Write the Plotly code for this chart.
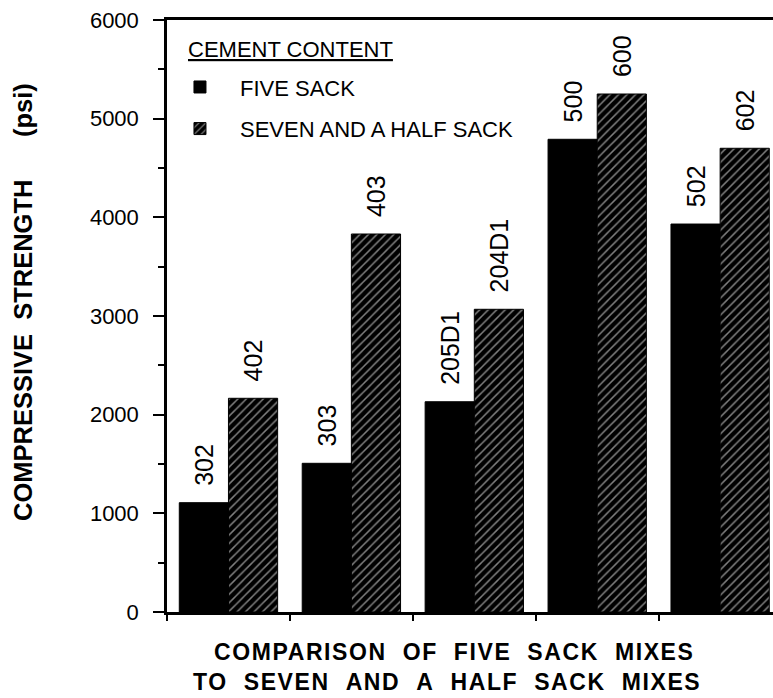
import plotly.graph_objects as go

categories = ["G1", "G2", "G3", "G4", "G5"]
five_sack = [1108, 1507, 2131, 4791, 3932]
seven_half_sack = [2166, 3831, 3068, 5250, 4700]
five_labels = ["302", "303", "205D1", "500", "502"]
seven_labels = ["402", "403", "204D1", "600", "602"]
y_ticks = [0, 1000, 2000, 3000, 4000, 5000, 6000]

FONT = "Liberation Sans, Arial, Helvetica, sans-serif"
NB = "\u00a0"

fig = go.Figure()
fig.add_trace(go.Bar(
    x=categories, y=five_sack, name="FIVE SACK",
    legendgroup="a",
    text=[NB * 2 + t for t in five_labels], textposition="outside", textangle=-90,
    textfont=dict(size=25, color="black", family=FONT),
    cliponaxis=False, constraintext="none",
    marker=dict(color="black", line=dict(color="black", width=1)),
))
fig.add_trace(go.Bar(
    x=categories, y=seven_half_sack, name="SEVEN AND A HALF SACK",
    legendgroup="b",
    text=[NB * 2 + t for t in seven_labels], textposition="outside", textangle=-90,
    textfont=dict(size=25, color="black", family=FONT),
    cliponaxis=False, constraintext="none",
    marker=dict(color="black", line=dict(color="black", width=1),
                pattern=dict(shape="/", fgcolor="white", bgcolor="black",
                             size=6, solidity=0.25)),
))

fig.update_layout(
    width=773, height=698,
    margin=dict(l=167, r=0, t=20, b=86),
    paper_bgcolor="white", plot_bgcolor="white",
    font=dict(family=FONT, color="black", size=22),
    barmode="group", bargap=0.2, bargroupgap=0,
    showlegend=True,
    legend=dict(
        x=-0.0116, y=0.922, xanchor="left", yanchor="top",
        bgcolor="rgba(0,0,0,0)", borderwidth=0,
        font=dict(size=22, family=FONT, color="black"),
        tracegroupgap=10, itemwidth=70,
    ),
    xaxis=dict(
        type="category", range=[-0.5, 4.43],
        showticklabels=False, tickson="boundaries",
        ticks="outside", ticklen=6, tickwidth=2, tickcolor="black",
        showline=True, linewidth=2.5, linecolor="black", mirror=True,
        showgrid=False, zeroline=False,
    ),
    yaxis=dict(
        range=[0, 6000], tickvals=y_ticks,
        ticks="outside", ticklen=11, tickwidth=2, tickcolor="black",
        ticklabelstandoff=10,
        tickfont=dict(size=22, family=FONT),
        minor=dict(dtick=500, ticks="outside", ticklen=6, tickwidth=2, tickcolor="black", showgrid=False),
        showline=True, linewidth=2.5, linecolor="black",
        showgrid=False, zeroline=False,
    ),
    annotations=[
        dict(text="CEMENT CONTENT",
             xref="paper", yref="paper", x=(186 - 167) / 606, y=(612 - 49) / 592,
             xanchor="left", yanchor="middle", showarrow=False,
             font=dict(size=22, family=FONT, color="black", lineposition="under")),
        dict(text="COMPRESSIVE" + NB * 2 + "STRENGTH" + NB * 6 + "(psi)",
             xref="paper", yref="paper", x=-0.2384, y=0.5228,
             xanchor="center", yanchor="middle", textangle=-90, showarrow=False,
             font=dict(size=25.5, family=FONT, weight="bold", color="black")),
        dict(text='<span style="letter-spacing:1.6px">COMPARISON' + NB * 2 + "OF" + NB * 2 + "FIVE" + NB * 2 + "SACK" + NB * 2 + "MIXES</span>",
             xref="paper", yref="paper", x=0.4736, y=-0.0676,
             xanchor="center", yanchor="middle", showarrow=False,
             font=dict(size=23, family=FONT, weight="bold", color="black")),
        dict(text='<span style="letter-spacing:1.6px">TO' + NB * 2 + "SEVEN" + NB * 2 + "AND" + NB * 2 + "A" + NB * 2 + "HALF" + NB * 2 + "SACK" + NB * 2 + "MIXES</span>",
             xref="paper", yref="paper", x=0.462, y=-0.1182,
             xanchor="center", yanchor="middle", showarrow=False,
             font=dict(size=23, family=FONT, weight="bold", color="black")),
    ],
)

fig.write_html("out.html", config={"displayModeBar": False},
               post_script="document.body.style.margin='0';")
